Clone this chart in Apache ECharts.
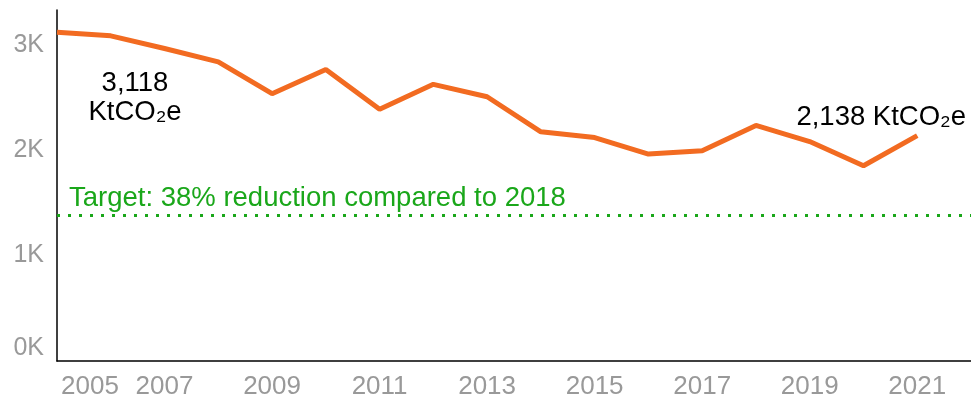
<!DOCTYPE html>
<html>
<head>
<meta charset="utf-8">
<script src="https://cdn.jsdelivr.net/npm/echarts@6/dist/echarts.min.js"></script>
<style>
html,body{margin:0;padding:0;background:#fff;}
#chart{width:971px;height:401px;}
</style>
</head>
<body>
<div id="chart"></div>
<script>
var years = ['2005','2006','2007','2008','2009','2010','2011','2012','2013','2014','2015','2016','2017','2018','2019','2020','2021','2022'];
var emissions = [3118, 3085, 2965, 2838, 2536, 2766, 2388, 2625, 2507, 2174, 2120, 1963, 1994, 2235, 2082, 1852, 2138, null];
var target = 1386;
var targetLabel = 'Target: 38% reduction compared to 2018';
var startLabel = '3,118\nKtCO\u2082e';
var endLabel = '2,138 KtCO\u2082e';
var yTicks = [0, 1000, 2000, 3000];

var FONT = '"Liberation Sans", Arial, sans-serif';
var chart = echarts.init(document.getElementById('chart'));
chart.setOption({
  animation: false,
  grid: {left: 57, right: 0, top: 10, bottom: 40},
  xAxis: {
    type: 'category',
    data: years,
    boundaryGap: false,
    axisLine: {show: true, lineStyle: {color: '#000', width: 1.5}},
    axisTick: {show: false},
    splitLine: {show: false},
    axisLabel: {
      interval: function (i) { return i % 2 === 0 && i < 17; },
      color: '#999999', fontSize: 26, fontFamily: FONT, margin: 13,
      alignMinLabel: 'left',
      formatter: function (v, i) { return i === 0 ? '{f|' + v + '}' : v; },
      rich: {f: {padding: [0, 0, 0, 4], color: '#999999', fontSize: 26, fontFamily: FONT}}
    }
  },
  yAxis: {
    type: 'value',
    min: 0, max: 3330, interval: 1000,
    axisLine: {show: true, lineStyle: {color: '#000', width: 1.5}},
    axisTick: {show: false},
    splitLine: {show: false},
    axisLabel: {
      color: '#999999', fontSize: 25, fontFamily: FONT, margin: 13,
      verticalAlignMinLabel: 'bottom',
      formatter: function (v) { return yTicks.indexOf(v) >= 0 ? (v / 1000) + 'K' : ''; }
    }
  },
  series: [{
    type: 'line',
    data: emissions,
    showSymbol: false,
    lineStyle: {color: '#F26B21', width: 5},
    itemStyle: {color: '#F26B21'},
    markLine: {
      silent: true,
      symbol: 'none',
      data: [{yAxis: target}],
      lineStyle: {color: '#1AA71A', width: 3, type: [3, 8]},
      label: {
        show: true, position: 'insideStartTop', formatter: targetLabel,
        color: '#1AA71A', fontSize: 27.5, fontFamily: FONT, distance: [12, 2]
      }
    },
    markPoint: {
      silent: true,
      symbol: 'circle', symbolSize: 1,
      itemStyle: {color: 'rgba(0,0,0,0)'},
      data: [
        {coord: ['2005', emissions[0]], label: {formatter: startLabel, offset: [78, 66], lineHeight: 29}},
        {coord: ['2021', emissions[16]], label: {formatter: endLabel, offset: [-36, -18]}}
      ],
      label: {show: true, position: 'inside', color: '#000', fontSize: 27.5, fontFamily: FONT, align: 'center'}
    }
  }]
});
</script>
</body>
</html>
